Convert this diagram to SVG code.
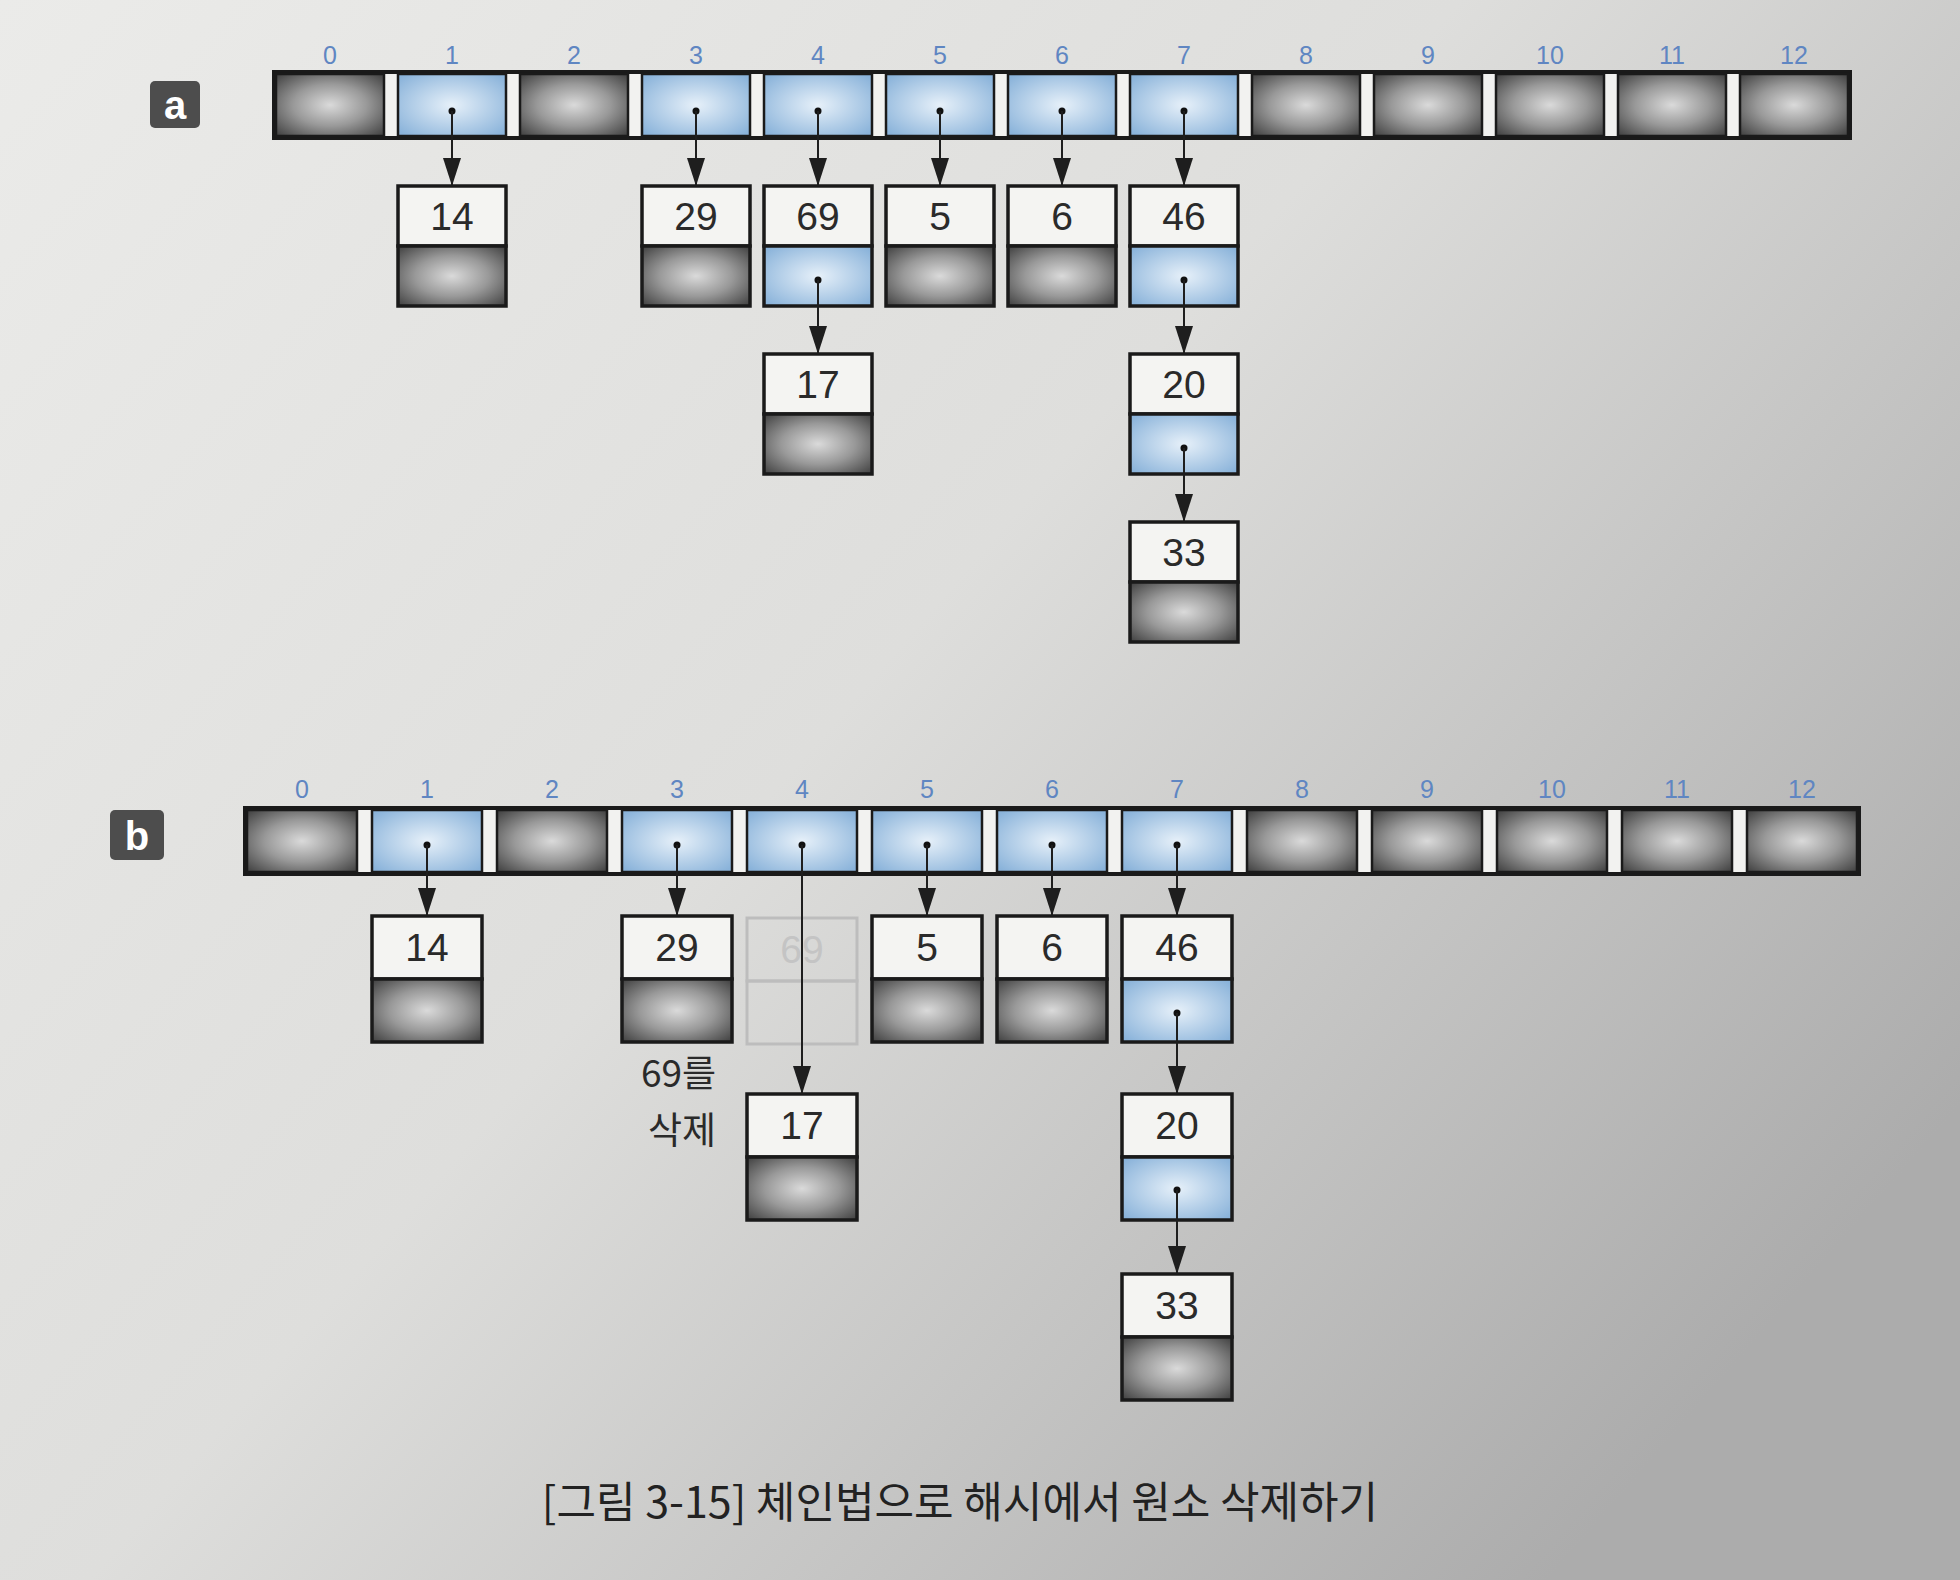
<svg xmlns="http://www.w3.org/2000/svg" width="1960" height="1580" viewBox="0 0 1960 1580">
<defs>
<linearGradient id="paper" x1="0" y1="0" x2="1" y2="0.7">
<stop offset="0" stop-color="#ebebe9"/>
<stop offset="0.5" stop-color="#dededc"/>
<stop offset="1" stop-color="#acacac"/>
</linearGradient>
<radialGradient id="dark" cx="50%" cy="50%" r="68%">
<stop offset="0" stop-color="#dadada"/>
<stop offset="0.5" stop-color="#999"/>
<stop offset="1" stop-color="#444"/>
</radialGradient>
<radialGradient id="blue" cx="50%" cy="50%" r="65%">
<stop offset="0" stop-color="#e6f0f9"/>
<stop offset="1" stop-color="#8ab3da"/>
</radialGradient>
<marker id="ah" viewBox="0 0 28 18" refX="28" refY="9" markerWidth="28" markerHeight="18" markerUnits="userSpaceOnUse" orient="auto">
<path d="M0,0 L28,9 L0,18 z" fill="#1e1e1e"/>
</marker>
<style>
.frame{fill:#f2f2f0;stroke:#1a1a1a;stroke-width:4}
.dk{fill:url(#dark);stroke:#1a1a1a;stroke-width:2.5}
.bl{fill:url(#blue);stroke:#1a1a1a;stroke-width:2.5}
.top{fill:#f4f4f2;stroke:#1a1a1a;stroke-width:3.5}
.ndk{fill:url(#dark);stroke:#1a1a1a;stroke-width:3.5}
.nbl{fill:url(#blue);stroke:#1a1a1a;stroke-width:3.5}
.ghost{fill:none;stroke:#bdbdbd;stroke-width:3}
.num{font-family:"Liberation Sans",Arial,sans-serif;font-size:39px;fill:#2a2a2a;text-anchor:middle}
.gnum{font-family:"Liberation Sans",Arial,sans-serif;font-size:39px;fill:#c4c4c4;text-anchor:middle}
.idx{font-family:"Liberation Sans",Arial,sans-serif;font-size:25px;fill:#5f86c2;text-anchor:middle}
.lab{font-family:"Liberation Sans",Arial,sans-serif;font-size:40px;font-weight:bold;fill:#fff;text-anchor:middle}
.ko{font-family:"Noto Sans CJK KR","Noto Sans",sans-serif;font-size:37px;fill:#2a2a2a;text-anchor:end}
.cap{font-family:"Noto Sans CJK KR","Noto Sans",sans-serif;font-size:43px;fill:#222;text-anchor:middle}
.ln{stroke:#1e1e1e;stroke-width:2;fill:none;marker-end:url(#ah)}
.dot{fill:#111}
</style>
</defs>
<rect x="0" y="0" width="1960" height="1580" fill="url(#paper)"/>

<!-- Panel a -->
<g id="label-a"><rect x="150" y="81" width="50" height="47" rx="5" fill="#4d4d4d"/><text class="lab" x="175" y="119">a</text></g>
<g id="array-a">
<rect class="frame" x="274" y="72" width="1576" height="66"/>
<rect class="dk" x="276" y="74" width="108" height="62"/>
<rect class="bl" x="398" y="74" width="108" height="62"/>
<rect class="dk" x="520" y="74" width="108" height="62"/>
<rect class="bl" x="642" y="74" width="108" height="62"/>
<rect class="bl" x="764" y="74" width="108" height="62"/>
<rect class="bl" x="886" y="74" width="108" height="62"/>
<rect class="bl" x="1008" y="74" width="108" height="62"/>
<rect class="bl" x="1130" y="74" width="108" height="62"/>
<rect class="dk" x="1252" y="74" width="108" height="62"/>
<rect class="dk" x="1374" y="74" width="108" height="62"/>
<rect class="dk" x="1496" y="74" width="108" height="62"/>
<rect class="dk" x="1618" y="74" width="108" height="62"/>
<rect class="dk" x="1740" y="74" width="108" height="62"/>
<text class="idx" x="330" y="64">0</text>
<text class="idx" x="452" y="64">1</text>
<text class="idx" x="574" y="64">2</text>
<text class="idx" x="696" y="64">3</text>
<text class="idx" x="818" y="64">4</text>
<text class="idx" x="940" y="64">5</text>
<text class="idx" x="1062" y="64">6</text>
<text class="idx" x="1184" y="64">7</text>
<text class="idx" x="1306" y="64">8</text>
<text class="idx" x="1428" y="64">9</text>
<text class="idx" x="1550" y="64">10</text>
<text class="idx" x="1672" y="64">11</text>
<text class="idx" x="1794" y="64">12</text>
</g>
<g id="a-n14"><rect class="top" x="398" y="186" width="108" height="60"/><rect class="ndk" x="398" y="246" width="108" height="60"/><text class="num" x="452" y="230">14</text></g>
<g id="a-n29"><rect class="top" x="642" y="186" width="108" height="60"/><rect class="ndk" x="642" y="246" width="108" height="60"/><text class="num" x="696" y="230">29</text></g>
<g id="a-n69"><rect class="top" x="764" y="186" width="108" height="60"/><rect class="nbl" x="764" y="246" width="108" height="60"/><text class="num" x="818" y="230">69</text></g>
<g id="a-n5"><rect class="top" x="886" y="186" width="108" height="60"/><rect class="ndk" x="886" y="246" width="108" height="60"/><text class="num" x="940" y="230">5</text></g>
<g id="a-n6"><rect class="top" x="1008" y="186" width="108" height="60"/><rect class="ndk" x="1008" y="246" width="108" height="60"/><text class="num" x="1062" y="230">6</text></g>
<g id="a-n46"><rect class="top" x="1130" y="186" width="108" height="60"/><rect class="nbl" x="1130" y="246" width="108" height="60"/><text class="num" x="1184" y="230">46</text></g>
<g id="a-n17"><rect class="top" x="764" y="354" width="108" height="60"/><rect class="ndk" x="764" y="414" width="108" height="60"/><text class="num" x="818" y="398">17</text></g>
<g id="a-n20"><rect class="top" x="1130" y="354" width="108" height="60"/><rect class="nbl" x="1130" y="414" width="108" height="60"/><text class="num" x="1184" y="398">20</text></g>
<g id="a-n33"><rect class="top" x="1130" y="522" width="108" height="60"/><rect class="ndk" x="1130" y="582" width="108" height="60"/><text class="num" x="1184" y="566">33</text></g>

<!-- Panel b -->
<g id="label-b"><rect x="110" y="810" width="54" height="50" rx="5" fill="#4d4d4d"/><text class="lab" x="137" y="850">b</text></g>
<g id="array-b">
<rect class="frame" x="245" y="808" width="1614" height="66"/>
<rect class="dk" x="247" y="810" width="110" height="62"/>
<rect class="bl" x="372" y="810" width="110" height="62"/>
<rect class="dk" x="497" y="810" width="110" height="62"/>
<rect class="bl" x="622" y="810" width="110" height="62"/>
<rect class="bl" x="747" y="810" width="110" height="62"/>
<rect class="bl" x="872" y="810" width="110" height="62"/>
<rect class="bl" x="997" y="810" width="110" height="62"/>
<rect class="bl" x="1122" y="810" width="110" height="62"/>
<rect class="dk" x="1247" y="810" width="110" height="62"/>
<rect class="dk" x="1372" y="810" width="110" height="62"/>
<rect class="dk" x="1497" y="810" width="110" height="62"/>
<rect class="dk" x="1622" y="810" width="110" height="62"/>
<rect class="dk" x="1747" y="810" width="110" height="62"/>
<text class="idx" x="302" y="798">0</text>
<text class="idx" x="427" y="798">1</text>
<text class="idx" x="552" y="798">2</text>
<text class="idx" x="677" y="798">3</text>
<text class="idx" x="802" y="798">4</text>
<text class="idx" x="927" y="798">5</text>
<text class="idx" x="1052" y="798">6</text>
<text class="idx" x="1177" y="798">7</text>
<text class="idx" x="1302" y="798">8</text>
<text class="idx" x="1427" y="798">9</text>
<text class="idx" x="1552" y="798">10</text>
<text class="idx" x="1677" y="798">11</text>
<text class="idx" x="1802" y="798">12</text>
</g>
<g id="b-n14"><rect class="top" x="372" y="916" width="110" height="63"/><rect class="ndk" x="372" y="979" width="110" height="63"/><text class="num" x="427" y="961">14</text></g>
<g id="b-n29"><rect class="top" x="622" y="916" width="110" height="63"/><rect class="ndk" x="622" y="979" width="110" height="63"/><text class="num" x="677" y="961">29</text></g>
<g id="b-n69-ghost"><rect class="ghost" x="747" y="918" width="110" height="63"/><rect class="ghost" x="747" y="981" width="110" height="63"/><text class="gnum" x="802" y="963">69</text></g>
<g id="b-n5"><rect class="top" x="872" y="916" width="110" height="63"/><rect class="ndk" x="872" y="979" width="110" height="63"/><text class="num" x="927" y="961">5</text></g>
<g id="b-n6"><rect class="top" x="997" y="916" width="110" height="63"/><rect class="ndk" x="997" y="979" width="110" height="63"/><text class="num" x="1052" y="961">6</text></g>
<g id="b-n46"><rect class="top" x="1122" y="916" width="110" height="63"/><rect class="nbl" x="1122" y="979" width="110" height="63"/><text class="num" x="1177" y="961">46</text></g>
<g id="b-n17"><rect class="top" x="747" y="1094" width="110" height="63"/><rect class="ndk" x="747" y="1157" width="110" height="63"/><text class="num" x="802" y="1139">17</text></g>
<g id="b-n20"><rect class="top" x="1122" y="1094" width="110" height="63"/><rect class="nbl" x="1122" y="1157" width="110" height="63"/><text class="num" x="1177" y="1139">20</text></g>
<g id="b-n33"><rect class="top" x="1122" y="1274" width="110" height="63"/><rect class="ndk" x="1122" y="1337" width="110" height="63"/><text class="num" x="1177" y="1319">33</text></g>
<g id="b-note"><text class="ko" x="716" y="1087">69를</text><text class="ko" x="716" y="1144">삭제</text></g>

<!-- Connectors -->
<g id="connectors">
<circle class="dot" cx="452" cy="111" r="3.5"/><line class="ln" x1="452" y1="111" x2="452" y2="186"/>
<circle class="dot" cx="696" cy="111" r="3.5"/><line class="ln" x1="696" y1="111" x2="696" y2="186"/>
<circle class="dot" cx="818" cy="111" r="3.5"/><line class="ln" x1="818" y1="111" x2="818" y2="186"/>
<circle class="dot" cx="940" cy="111" r="3.5"/><line class="ln" x1="940" y1="111" x2="940" y2="186"/>
<circle class="dot" cx="1062" cy="111" r="3.5"/><line class="ln" x1="1062" y1="111" x2="1062" y2="186"/>
<circle class="dot" cx="1184" cy="111" r="3.5"/><line class="ln" x1="1184" y1="111" x2="1184" y2="186"/>
<circle class="dot" cx="818" cy="280" r="3.5"/><line class="ln" x1="818" y1="280" x2="818" y2="354"/>
<circle class="dot" cx="1184" cy="280" r="3.5"/><line class="ln" x1="1184" y1="280" x2="1184" y2="354"/>
<circle class="dot" cx="1184" cy="448" r="3.5"/><line class="ln" x1="1184" y1="448" x2="1184" y2="522"/>

<circle class="dot" cx="427" cy="845" r="3.5"/><line class="ln" x1="427" y1="845" x2="427" y2="916"/>
<circle class="dot" cx="677" cy="845" r="3.5"/><line class="ln" x1="677" y1="845" x2="677" y2="916"/>
<circle class="dot" cx="802" cy="845" r="3.5"/><line class="ln" x1="802" y1="845" x2="802" y2="1094"/>
<circle class="dot" cx="927" cy="845" r="3.5"/><line class="ln" x1="927" y1="845" x2="927" y2="916"/>
<circle class="dot" cx="1052" cy="845" r="3.5"/><line class="ln" x1="1052" y1="845" x2="1052" y2="916"/>
<circle class="dot" cx="1177" cy="845" r="3.5"/><line class="ln" x1="1177" y1="845" x2="1177" y2="916"/>
<circle class="dot" cx="1177" cy="1013" r="3.5"/><line class="ln" x1="1177" y1="1013" x2="1177" y2="1094"/>
<circle class="dot" cx="1177" cy="1190" r="3.5"/><line class="ln" x1="1177" y1="1190" x2="1177" y2="1274"/>
</g>

<text class="cap" x="960" y="1518">[그림 3-15] 체인법으로 해시에서 원소 삭제하기</text>
</svg>
